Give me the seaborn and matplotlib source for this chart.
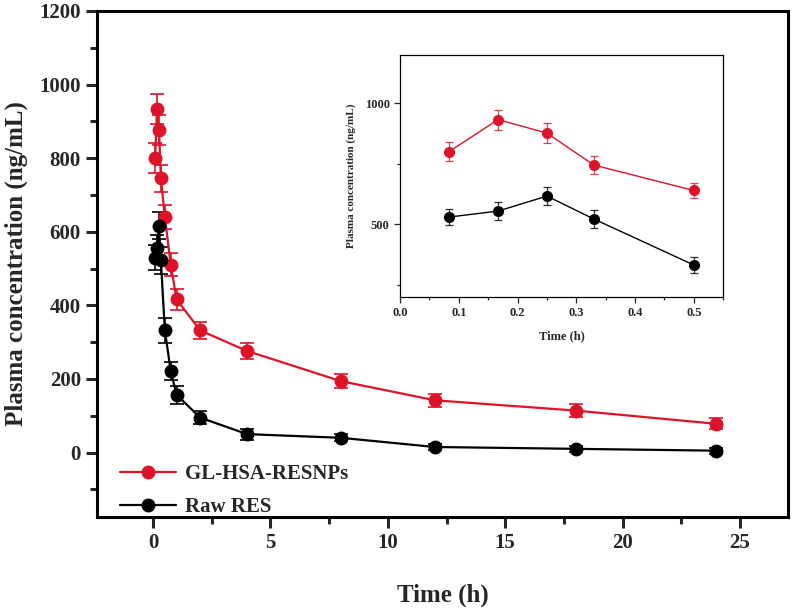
import matplotlib
matplotlib.use("Agg")
import matplotlib.pyplot as plt
import seaborn as sns
import pandas as pd
import numpy as np
from matplotlib.ticker import MultipleLocator

# ---- data ----
time_h = [0.083, 0.167, 0.25, 0.33, 0.5, 0.75, 1, 2, 4, 8, 12, 18, 24]
np_mean = [800, 933, 877, 745, 640, 510, 416, 332, 276, 194, 142, 114, 78]
np_err = [40, 41, 40, 36, 33, 31, 29, 23, 22, 20, 18, 18, 15]
raw_mean = [530, 555, 617, 522, 332, 221, 157, 95, 50, 40, 15, 10, 5]
raw_err = [33, 37, 37, 36, 33, 25, 24, 18, 15, 10, 8, 8, 8]
labels = ["GL-HSA-RESNPs", "Raw RES"]
inset_n = 5  # first five time points shown in the inset

RED = "#DE1228"
BLACK = "#000000"

sns.set_style("white")
plt.rcParams["font.family"] = ["Liberation Serif", "DejaVu Serif"]
plt.rcParams["font.weight"] = "bold"

df = pd.concat([
    pd.DataFrame({"t": time_h, "c": np_mean, "err": np_err, "g": labels[0]}),
    pd.DataFrame({"t": time_h, "c": raw_mean, "err": raw_err, "g": labels[1]}),
])

fig = plt.figure(figsize=(8, 6.11), dpi=100)
ax = fig.add_axes([0.121, 0.154, 0.864, 0.828])

colors = {labels[0]: RED, labels[1]: BLACK}
for g in labels:
    sub = df[df.g == g]
    ax.errorbar(sub.t, sub.c, yerr=sub.err, fmt="none", ecolor=colors[g],
                elinewidth=1.2, capsize=5, capthick=1.2, zorder=2)
sns.lineplot(data=df, x="t", y="c", hue="g", palette=colors, marker="o",
             markersize=10, markeredgewidth=0, linewidth=1.6, ax=ax, zorder=3,
             sort=False)

ax.set_xlim(-2.4, 27.05)
ax.set_ylim(-175, 1200)
ax.xaxis.set_major_locator(MultipleLocator(5))
ax.xaxis.set_minor_locator(MultipleLocator(2.5))
ax.yaxis.set_major_locator(MultipleLocator(200))
ax.yaxis.set_minor_locator(MultipleLocator(100))
ax.tick_params(which="both", direction="out", bottom=True, left=True,
               top=False, right=False, width=2.2, labelsize=15)
ax.tick_params(which="major", length=8)
ax.tick_params(which="minor", length=5)
for s in ax.spines.values():
    s.set_linewidth(2.2)
    s.set_color("black")
ax.set_xlabel("Time (h)", fontsize=18, fontweight="bold", labelpad=22)
ax.set_ylabel("Plasma concentration (ng/mL)", fontsize=18, fontweight="bold", labelpad=8)
for lab in ax.get_xticklabels() + ax.get_yticklabels():
    lab.set_fontweight("bold")

leg = ax.legend(loc="lower left", bbox_to_anchor=(0.006, -0.037), frameon=False,
                handlelength=2.7, handletextpad=0.45, labelspacing=0.6,
                prop={"weight": "bold", "size": 15})
for h in leg.get_lines():
    h.set_markersize(10)

# ---- inset ----
ins = fig.add_axes([0.5, 0.514, 0.404, 0.396])
dfi = df.groupby("g", sort=False).head(inset_n)
for g in labels:
    sub = dfi[dfi.g == g]
    ins.errorbar(sub.t, sub.c, yerr=sub.err, fmt="none", ecolor=colors[g],
                 elinewidth=0.9, capsize=3, capthick=0.9, zorder=2, alpha=0.8)
sns.lineplot(data=dfi, x="t", y="c", hue="g", palette=colors, marker="o",
             markersize=8, markeredgewidth=0, linewidth=1, ax=ins, zorder=3,
             legend=False, sort=False)
ins.set_xlim(0, 0.55)
ins.set_ylim(200, 1200)
ins.xaxis.set_major_locator(MultipleLocator(0.1))
ins.xaxis.set_minor_locator(MultipleLocator(0.05))
ins.yaxis.set_major_locator(MultipleLocator(500))
ins.yaxis.set_minor_locator(MultipleLocator(250))
ins.tick_params(which="both", direction="out", bottom=True, left=True,
                top=False, right=False, width=0.9, labelsize=9)
ins.tick_params(which="major", length=4)
ins.tick_params(which="minor", length=2.5)
for s in ins.spines.values():
    s.set_linewidth(0.9)
    s.set_color("black")
ins.set_xlabel("Time (h)", fontsize=9, fontweight="bold", labelpad=8)
ins.set_ylabel("Plasma concentration (ng/mL)", fontsize=8, fontweight="bold", labelpad=6)
ins.xaxis.set_major_formatter(matplotlib.ticker.FormatStrFormatter("%.1f"))
for lab in ins.get_xticklabels() + ins.get_yticklabels():
    lab.set_fontweight("bold")

fig.savefig("out.png", dpi=100)
